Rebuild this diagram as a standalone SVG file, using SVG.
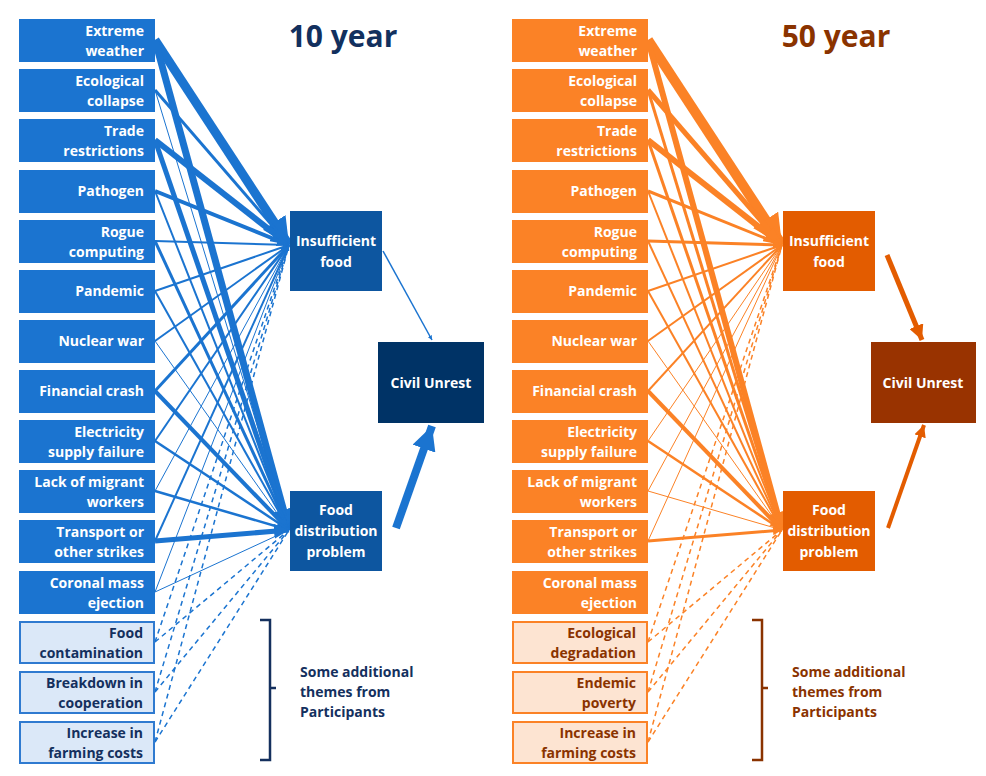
<svg xmlns="http://www.w3.org/2000/svg" width="986" height="776" viewBox="0 0 986 776">
<defs>
<marker id="ab" viewBox="0 0 10 10" refX="10" refY="5" markerWidth="3" markerHeight="3" orient="auto" markerUnits="strokeWidth"><path d="M0,0L10,5L0,10z" fill="#1b74d0"/></marker>
<marker id="ao" viewBox="0 0 10 10" refX="10" refY="5" markerWidth="3" markerHeight="3" orient="auto" markerUnits="strokeWidth"><path d="M0,0L10,5L0,10z" fill="#fb8226"/></marker>
<marker id="an" viewBox="0 0 10 10" refX="10" refY="5" markerWidth="3" markerHeight="3" orient="auto" markerUnits="strokeWidth"><path d="M0,0L10,5L0,10z" fill="#1b74d0"/></marker>
<marker id="ar" viewBox="0 0 10 10" refX="10" refY="5" markerWidth="3" markerHeight="3" orient="auto" markerUnits="strokeWidth"><path d="M0,0L10,5L0,10z" fill="#e35c00"/></marker>
</defs>
<style>
text{font-family:"Open Sans","Noto Sans","Liberation Sans",sans-serif;font-weight:bold;font-size:14px}
.sb{fill:#1b74d0}.so{fill:#fb8226}
.lb{fill:#dbe8f8;stroke:#2f7ad0;stroke-width:2}.lo{fill:#fde4d2;stroke:#fb8226;stroke-width:2}
.w{fill:#fff}.r{text-anchor:end}.c{text-anchor:middle}
.tb{fill:#14305e}.to{fill:#8a3300}
.b line{stroke:#1b74d0;marker-end:url(#ab)}
.o line{stroke:#fb8226;marker-end:url(#ao)}
.b line.d,.o line.d{stroke-dasharray:5 4;marker-end:none;stroke-width:1.5}
</style>
<text x="343" y="47" class="c" style="font-size:30px;fill:#12305e">10 year</text>
<text x="836" y="47" class="c" style="font-size:30px;fill:#8a3300">50 year</text>

<g id="connectors">
<g class="b">
<line x1="155" y1="40" x2="289" y2="245" stroke-width="9"/>
<line x1="155" y1="40" x2="289" y2="530" stroke-width="7"/>
<line x1="155" y1="90" x2="289" y2="245" stroke-width="3"/>
<line x1="155" y1="90" x2="289" y2="530" stroke-width="1"/>
<line x1="155" y1="140" x2="289" y2="245" stroke-width="6"/>
<line x1="155" y1="140" x2="289" y2="530" stroke-width="5"/>
<line x1="155" y1="191" x2="289" y2="245" stroke-width="4"/>
<line x1="155" y1="191" x2="289" y2="530" stroke-width="2"/>
<line x1="155" y1="241" x2="289" y2="245" stroke-width="2"/>
<line x1="155" y1="241" x2="289" y2="530" stroke-width="3"/>
<line x1="155" y1="291" x2="289" y2="245" stroke-width="2"/>
<line x1="155" y1="291" x2="289" y2="530" stroke-width="2"/>
<line x1="155" y1="341" x2="289" y2="245" stroke-width="2"/>
<line x1="155" y1="341" x2="289" y2="530" stroke-width="1"/>
<line x1="155" y1="391" x2="289" y2="245" stroke-width="3"/>
<line x1="155" y1="391" x2="289" y2="530" stroke-width="4"/>
<line x1="155" y1="441" x2="289" y2="245" stroke-width="2"/>
<line x1="155" y1="441" x2="289" y2="530" stroke-width="2.5"/>
<line x1="155" y1="491" x2="289" y2="245" stroke-width="1"/>
<line x1="155" y1="491" x2="289" y2="530" stroke-width="2.5"/>
<line x1="155" y1="541" x2="289" y2="245" stroke-width="2"/>
<line x1="155" y1="541" x2="289" y2="530" stroke-width="5"/>
<line x1="155" y1="592" x2="289" y2="245" stroke-width="1"/>
<line x1="155" y1="592" x2="289" y2="530" stroke-width="1"/>
<line class="d" x1="155" y1="642" x2="289" y2="245"/>
<line class="d" x1="155" y1="642" x2="289" y2="530"/>
<line class="d" x1="155" y1="692" x2="289" y2="245"/>
<line class="d" x1="155" y1="692" x2="289" y2="530"/>
<line class="d" x1="155" y1="742" x2="289" y2="245"/>
<line class="d" x1="155" y1="742" x2="289" y2="530"/>
<line x1="383" y1="251" x2="432" y2="340" stroke-width="1.5" style="marker-end:url(#an)"/>
<line x1="396" y1="528" x2="432" y2="426" stroke-width="8" style="marker-end:url(#an)"/>
</g>
<g class="o">
<line x1="648" y1="40" x2="782" y2="245" stroke-width="10"/>
<line x1="648" y1="40" x2="782" y2="530" stroke-width="6"/>
<line x1="648" y1="90" x2="782" y2="245" stroke-width="5"/>
<line x1="648" y1="90" x2="782" y2="530" stroke-width="3"/>
<line x1="648" y1="140" x2="782" y2="245" stroke-width="6"/>
<line x1="648" y1="140" x2="782" y2="530" stroke-width="3"/>
<line x1="648" y1="191" x2="782" y2="245" stroke-width="3"/>
<line x1="648" y1="191" x2="782" y2="530" stroke-width="2"/>
<line x1="648" y1="241" x2="782" y2="245" stroke-width="3"/>
<line x1="648" y1="241" x2="782" y2="530" stroke-width="2"/>
<line x1="648" y1="291" x2="782" y2="245" stroke-width="2"/>
<line x1="648" y1="291" x2="782" y2="530" stroke-width="2"/>
<line x1="648" y1="341" x2="782" y2="245" stroke-width="2"/>
<line x1="648" y1="341" x2="782" y2="530" stroke-width="1"/>
<line x1="648" y1="391" x2="782" y2="245" stroke-width="2"/>
<line x1="648" y1="391" x2="782" y2="530" stroke-width="4"/>
<line x1="648" y1="441" x2="782" y2="245" stroke-width="1"/>
<line x1="648" y1="441" x2="782" y2="530" stroke-width="2.5"/>
<line x1="648" y1="491" x2="782" y2="245" stroke-width="1"/>
<line x1="648" y1="491" x2="782" y2="530" stroke-width="1"/>
<line x1="648" y1="541" x2="782" y2="245" stroke-width="1"/>
<line x1="648" y1="541" x2="782" y2="530" stroke-width="3"/>
<line class="d" x1="648" y1="642" x2="782" y2="245"/>
<line class="d" x1="648" y1="642" x2="782" y2="530"/>
<line class="d" x1="648" y1="692" x2="782" y2="245"/>
<line class="d" x1="648" y1="692" x2="782" y2="530"/>
<line class="d" x1="648" y1="742" x2="782" y2="245"/>
<line class="d" x1="648" y1="742" x2="782" y2="530"/>
<line x1="887" y1="255" x2="922" y2="340" stroke-width="5" style="stroke:#e35c00;marker-end:url(#ar)"/>
<line x1="888" y1="528" x2="924" y2="425" stroke-width="4" style="stroke:#e35c00;marker-end:url(#ar)"/>
</g>
</g>

<g id="ten-year-sources">
<g id="b1"><rect class="sb" x="19" y="19" width="136" height="43"/><text class="w r" x="144" y="36">Extreme</text><text class="w r" x="144" y="56">weather</text></g>
<g id="b2"><rect class="sb" x="19" y="69" width="136" height="43"/><text class="w r" x="144" y="86">Ecological</text><text class="w r" x="144" y="106">collapse</text></g>
<g id="b3"><rect class="sb" x="19" y="119" width="136" height="43"/><text class="w r" x="144" y="136">Trade</text><text class="w r" x="144" y="156">restrictions</text></g>
<g id="b4"><rect class="sb" x="19" y="170" width="136" height="43"/><text class="w r" x="144" y="196">Pathogen</text></g>
<g id="b5"><rect class="sb" x="19" y="220" width="136" height="43"/><text class="w r" x="144" y="237">Rogue</text><text class="w r" x="144" y="257">computing</text></g>
<g id="b6"><rect class="sb" x="19" y="270" width="136" height="43"/><text class="w r" x="144" y="296">Pandemic</text></g>
<g id="b7"><rect class="sb" x="19" y="320" width="136" height="43"/><text class="w r" x="144" y="346">Nuclear war</text></g>
<g id="b8"><rect class="sb" x="19" y="370" width="136" height="43"/><text class="w r" x="144" y="396">Financial crash</text></g>
<g id="b9"><rect class="sb" x="19" y="420" width="136" height="43"/><text class="w r" x="144" y="437">Electricity</text><text class="w r" x="144" y="457">supply failure</text></g>
<g id="b10"><rect class="sb" x="19" y="470" width="136" height="43"/><text class="w r" x="144" y="487">Lack of migrant</text><text class="w r" x="144" y="507">workers</text></g>
<g id="b11"><rect class="sb" x="19" y="520" width="136" height="43"/><text class="w r" x="144" y="537">Transport or</text><text class="w r" x="144" y="557">other strikes</text></g>
<g id="b12"><rect class="sb" x="19" y="571" width="136" height="43"/><text class="w r" x="144" y="588">Coronal mass</text><text class="w r" x="144" y="608">ejection</text></g>
<g id="b13"><rect class="lb" x="20" y="622" width="134" height="41"/><text class="tb r" x="143" y="638">Food</text><text class="tb r" x="143" y="658">contamination</text></g>
<g id="b14"><rect class="lb" x="20" y="672" width="134" height="41"/><text class="tb r" x="143" y="688">Breakdown in</text><text class="tb r" x="143" y="708">cooperation</text></g>
<g id="b15"><rect class="lb" x="20" y="722" width="134" height="41"/><text class="tb r" x="143" y="738">Increase in</text><text class="tb r" x="143" y="758">farming costs</text></g>
</g>
<g id="ten-insufficient-food"><rect x="290" y="211" width="92" height="80" fill="#0d56a0"/><text class="w c" x="336" y="246">Insufficient</text><text class="w c" x="336" y="267">food</text></g>
<g id="ten-food-distribution"><rect x="290" y="491" width="92" height="80" fill="#0d56a0"/><text class="w c" x="336" y="515">Food</text><text class="w c" x="336" y="536">distribution</text><text class="w c" x="336" y="557">problem</text></g>
<g id="ten-civil-unrest"><rect x="378" y="342" width="106" height="81" fill="#003366"/><text class="w c" x="431" y="388">Civil Unrest</text></g>
<g id="ten-note"><path d="M260,620 H270 V688 H276 M270,688 V760 H260" fill="none" stroke="#14305e" stroke-width="2.5"/><text class="tb" x="300" y="677">Some additional</text><text class="tb" x="300" y="697">themes from</text><text class="tb" x="300" y="717">Participants</text></g>

<g id="fifty-year-sources">
<g id="o1"><rect class="so" x="512" y="19" width="136" height="43"/><text class="w r" x="637" y="36">Extreme</text><text class="w r" x="637" y="56">weather</text></g>
<g id="o2"><rect class="so" x="512" y="69" width="136" height="43"/><text class="w r" x="637" y="86">Ecological</text><text class="w r" x="637" y="106">collapse</text></g>
<g id="o3"><rect class="so" x="512" y="119" width="136" height="43"/><text class="w r" x="637" y="136">Trade</text><text class="w r" x="637" y="156">restrictions</text></g>
<g id="o4"><rect class="so" x="512" y="170" width="136" height="43"/><text class="w r" x="637" y="196">Pathogen</text></g>
<g id="o5"><rect class="so" x="512" y="220" width="136" height="43"/><text class="w r" x="637" y="237">Rogue</text><text class="w r" x="637" y="257">computing</text></g>
<g id="o6"><rect class="so" x="512" y="270" width="136" height="43"/><text class="w r" x="637" y="296">Pandemic</text></g>
<g id="o7"><rect class="so" x="512" y="320" width="136" height="43"/><text class="w r" x="637" y="346">Nuclear war</text></g>
<g id="o8"><rect class="so" x="512" y="370" width="136" height="43"/><text class="w r" x="637" y="396">Financial crash</text></g>
<g id="o9"><rect class="so" x="512" y="420" width="136" height="43"/><text class="w r" x="637" y="437">Electricity</text><text class="w r" x="637" y="457">supply failure</text></g>
<g id="o10"><rect class="so" x="512" y="470" width="136" height="43"/><text class="w r" x="637" y="487">Lack of migrant</text><text class="w r" x="637" y="507">workers</text></g>
<g id="o11"><rect class="so" x="512" y="520" width="136" height="43"/><text class="w r" x="637" y="537">Transport or</text><text class="w r" x="637" y="557">other strikes</text></g>
<g id="o12"><rect class="so" x="512" y="571" width="136" height="43"/><text class="w r" x="637" y="588">Coronal mass</text><text class="w r" x="637" y="608">ejection</text></g>
<g id="o13"><rect class="lo" x="513" y="622" width="134" height="41"/><text class="to r" x="636" y="638">Ecological</text><text class="to r" x="636" y="658">degradation</text></g>
<g id="o14"><rect class="lo" x="513" y="672" width="134" height="41"/><text class="to r" x="636" y="688">Endemic</text><text class="to r" x="636" y="708">poverty</text></g>
<g id="o15"><rect class="lo" x="513" y="722" width="134" height="41"/><text class="to r" x="636" y="738">Increase in</text><text class="to r" x="636" y="758">farming costs</text></g>
</g>
<g id="fifty-insufficient-food"><rect x="783" y="211" width="92" height="80" fill="#e35c00"/><text class="w c" x="829" y="246">Insufficient</text><text class="w c" x="829" y="267">food</text></g>
<g id="fifty-food-distribution"><rect x="783" y="491" width="92" height="80" fill="#e35c00"/><text class="w c" x="829" y="515">Food</text><text class="w c" x="829" y="536">distribution</text><text class="w c" x="829" y="557">problem</text></g>
<g id="fifty-civil-unrest"><rect x="871" y="342" width="105" height="81" fill="#993300"/><text class="w c" x="923" y="388">Civil Unrest</text></g>
<g id="fifty-note"><path d="M752,620 H762 V688 H768 M762,688 V760 H752" fill="none" stroke="#8a3300" stroke-width="2.5"/><text class="to" x="792" y="677">Some additional</text><text class="to" x="792" y="697">themes from</text><text class="to" x="792" y="717">Participants</text></g>
</svg>
